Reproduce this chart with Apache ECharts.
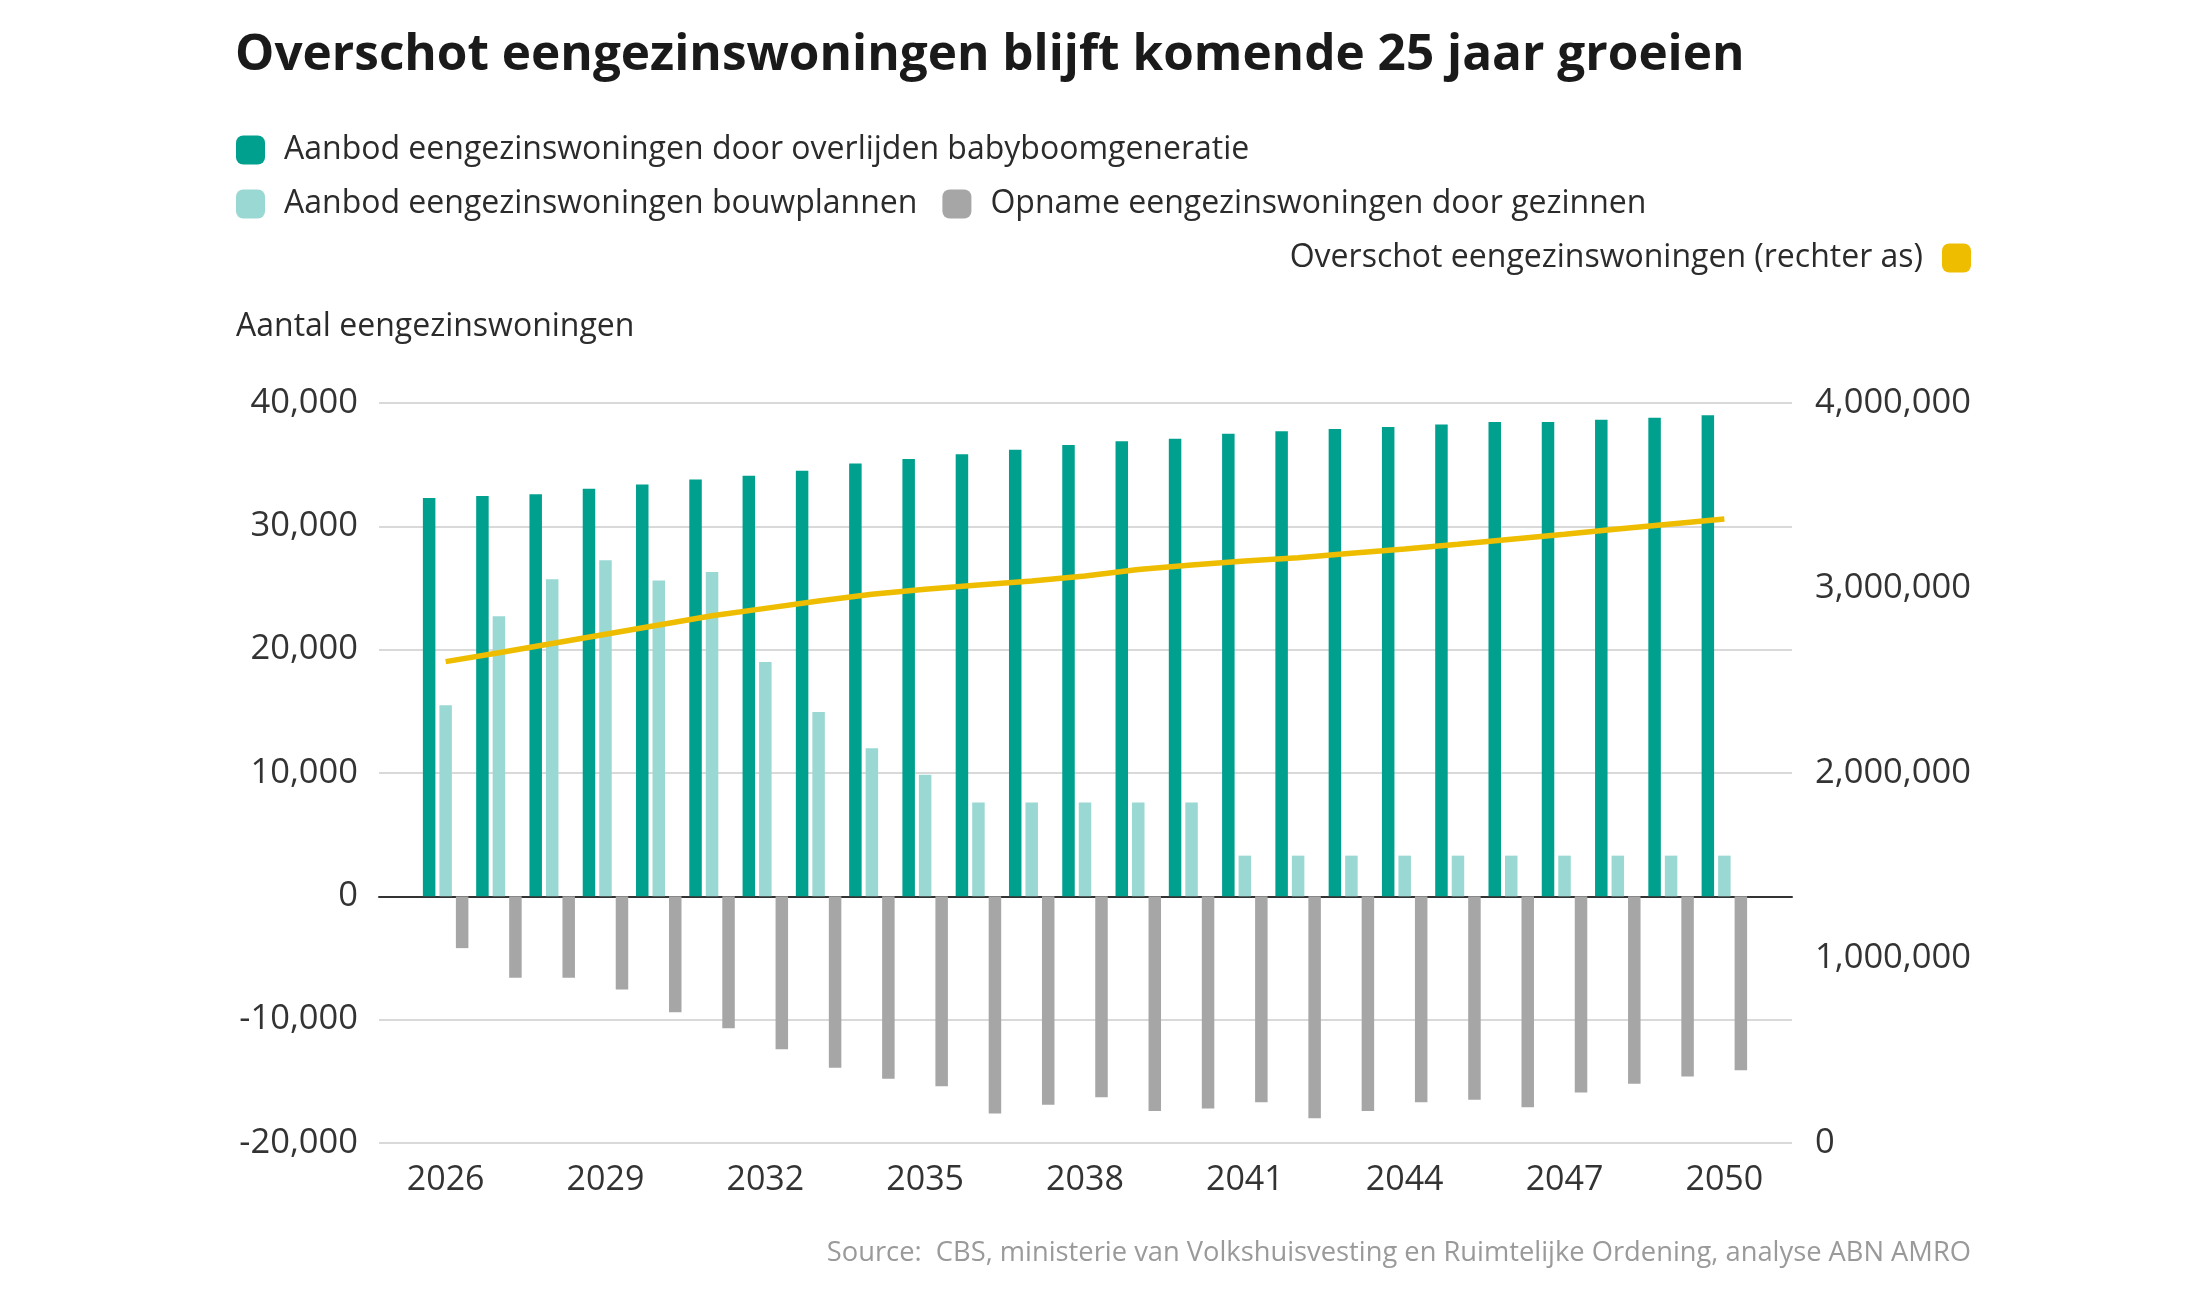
<!DOCTYPE html>
<html>
<head>
<meta charset="utf-8">
<script src="https://cdn.jsdelivr.net/npm/echarts@6/dist/echarts.min.js"></script>
<style>
  html, body { margin: 0; padding: 0; background: #ffffff; }
  #chart { width: 2200px; height: 1294px; }
</style>
</head>
<body>
<div id="chart"></div>
<script>
// ---- Data ----
const years = ['2026','2027','2028','2029','2030','2031','2032','2033','2034','2035','2036','2037','2038',
               '2039','2040','2041','2042','2043','2044','2045','2046','2047','2048','2049','2050'];
const aanbodOverlijden = [32300, 32450, 32600, 33050, 33400, 33800, 34100, 34500, 35100, 35450, 35850, 36200, 36600,
                          36900, 37100, 37500, 37700, 37900, 38050, 38250, 38450, 38450, 38650, 38800, 39000];
const aanbodBouwplannen = [15500, 22700, 25700, 27250, 25600, 26300, 19000, 14950, 12000, 9850, 7600, 7600, 7600,
                           7600, 7600, 3300, 3300, 3300, 3300, 3300, 3300, 3300, 3300, 3300, 3300];
const opnameGezinnen = [-4200, -6600, -6600, -7550, -9400, -10700, -12400, -13900, -14800, -15400, -17600, -16900, -16300,
                        -17400, -17200, -16700, -18000, -17400, -16700, -16500, -17100, -15900, -15200, -14600, -14100];
const overschot = [2602000, 2650000, 2700000, 2750000, 2800000, 2850000, 2890000, 2930000, 2966000, 2993000, 3016000, 3038000, 3065000,
                   3100000, 3124000, 3146000, 3164000, 3188000, 3211000, 3236000, 3263000, 3290000, 3319000, 3346000, 3373000];
const leftTicks = { min: -20000, max: 40000, interval: 10000 };
const rightTicks = { min: 0, max: 4000000, interval: 1000000 };

const names = {
  s1: 'Aanbod eengezinswoningen door overlijden babyboomgeneratie',
  s2: 'Aanbod eengezinswoningen bouwplannen',
  s3: 'Opname eengezinswoningen door gezinnen',
  s4: 'Overschot eengezinswoningen (rechter as)'
};
const colors = { teal: '#00a08f', light: '#9ad9d3', gray: '#a6a6a6', yellow: '#efbd00' };
const FONT = '"Open Sans", sans-serif';
const fmt = v => v.toLocaleString('en-US');

const chart = echarts.init(document.getElementById('chart'), null, { renderer: 'canvas' });

const legendText = { fontFamily: FONT, fontSize: 32, color: '#2b2b2b', padding: [0, 0, 0, 14] };

chart.setOption({
  backgroundColor: '#ffffff',
  animation: false,
  title: [
    { text: 'Overschot eengezinswoningen blijft komende 25 jaar groeien', left: 235, top: 31, padding: 0,
      textStyle: { fontFamily: FONT, fontWeight: 'bold', fontSize: 49.5, color: '#1a1a1a' } },
    { text: 'Aantal eengezinswoningen', left: 236, top: 311, padding: 0,
      textStyle: { fontFamily: FONT, fontWeight: 'normal', fontSize: 32, color: '#2b2b2b' } },
    { text: 'Source:  CBS, ministerie van Volkshuisvesting en Ruimtelijke Ordening, analyse ABN AMRO', right: 229, top: 1240, padding: 0,
      textStyle: { fontFamily: FONT, fontWeight: 'normal', fontSize: 27.3, color: '#9a9a9a' } }
  ],
  legend: [
    { data: [{ name: names.s1, icon: 'roundRect' }], left: 236, top: 134, padding: 0,
      itemWidth: 29, itemHeight: 29, itemGap: 25, textStyle: legendText, selectedMode: false },
    { data: [{ name: names.s2, icon: 'roundRect' }, { name: names.s3, icon: 'roundRect' }], left: 236, top: 188, padding: 0,
      itemWidth: 29, itemHeight: 29, itemGap: 25, textStyle: legendText, selectedMode: false },
    { data: [{ name: names.s4, icon: 'roundRect' }], right: 229, top: 242, padding: 0, align: 'right',
      itemWidth: 29, itemHeight: 29, itemGap: 25,
      textStyle: Object.assign({}, legendText, { padding: [0, 14, 0, 0] }), selectedMode: false }
  ],
  grid: [
    { left: 419, right: 449, top: 403, height: 740, containLabel: false },
    { left: 379, right: 408, top: 403, height: 740, containLabel: false }
  ],
  xAxis: [
    { type: 'category', gridIndex: 0, data: years, boundaryGap: true,
      axisLine: { show: false }, axisTick: { show: false }, splitLine: { show: false },
      axisLabel: { interval: 2, margin: 20, fontFamily: FONT, fontSize: 34, color: '#333333' } },
    { type: 'value', gridIndex: 1, min: 0, max: 1, show: true,
      axisLine: { show: true, onZero: true, lineStyle: { color: '#333333', width: 2 } },
      axisTick: { show: false }, axisLabel: { show: false }, splitLine: { show: false } }
  ],
  yAxis: [
    { type: 'value', gridIndex: 0, min: leftTicks.min, max: leftTicks.max, interval: leftTicks.interval,
      axisLine: { show: false }, axisTick: { show: false }, axisLabel: { show: false }, splitLine: { show: false } },
    { type: 'value', gridIndex: 0, position: 'right', min: rightTicks.min, max: rightTicks.max, interval: rightTicks.interval,
      axisLine: { show: false }, axisTick: { show: false }, splitLine: { show: false },
      axisLabel: { margin: 64, fontFamily: FONT, fontSize: 34.5, color: '#333333', formatter: fmt } },
    { type: 'value', gridIndex: 1, min: leftTicks.min, max: leftTicks.max, interval: leftTicks.interval,
      axisLine: { show: false }, axisTick: { show: false },
      splitLine: { show: true, lineStyle: { color: '#d9d9d9', width: 2 } },
      axisLabel: { margin: 21, fontFamily: FONT, fontSize: 34.5, color: '#333333', formatter: fmt } }
  ],
  series: [
    { name: names.s1, type: 'bar', xAxisIndex: 0, yAxisIndex: 0, data: aanbodOverlijden,
      barWidth: 12.5, barGap: '32%', itemStyle: { color: colors.teal }, z: 3 },
    { name: names.s2, type: 'bar', xAxisIndex: 0, yAxisIndex: 0, data: aanbodBouwplannen,
      barWidth: 12.5, barGap: '32%', itemStyle: { color: colors.light }, z: 3 },
    { name: names.s3, type: 'bar', xAxisIndex: 0, yAxisIndex: 0, data: opnameGezinnen,
      barWidth: 12.5, barGap: '32%', itemStyle: { color: colors.gray }, z: 3 },
    { name: names.s4, type: 'line', xAxisIndex: 0, yAxisIndex: 1, data: overschot,
      showSymbol: false, symbol: 'none', lineStyle: { color: colors.yellow, width: 5.5 },
      itemStyle: { color: colors.yellow }, z: 5 }
  ]
});
</script>
</body>
</html>
